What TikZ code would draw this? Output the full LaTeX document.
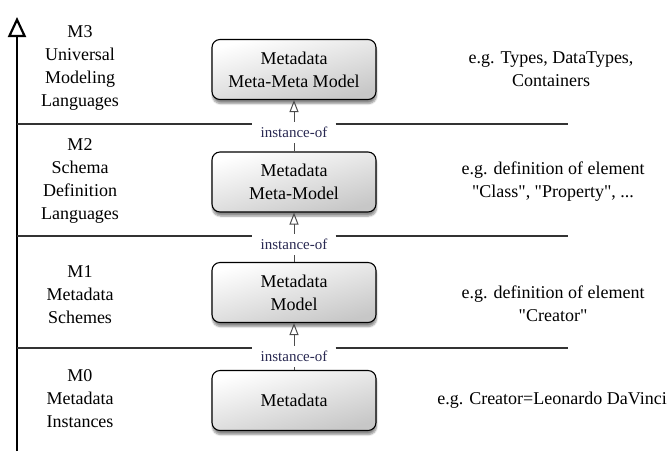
\documentclass[tikz,border=0pt]{standalone}
\usepackage{fontspec}
\setmainfont{Liberation Serif}
\usetikzlibrary{arrows.meta,shadows.blur}
\definecolor{instblue}{rgb}{0.16,0.16,0.32}

\begin{document}
\begin{tikzpicture}[x=1pt, y=-1pt,
	level/.style={font=\fontsize{18}{23}\selectfont, align=center},
	mbox/.style={level, draw=black, line width=1.1pt, rounded corners=8pt, minimum width=164pt, minimum height=60pt, top color=white, bottom color=black!22, shading angle=15, blur shadow={shadow xshift=0.5pt, shadow yshift=-4pt, shadow blur steps=6, shadow opacity=45}},
	inst/.style={font=\fontsize{15}{18}\selectfont, text=instblue, fill=white, inner xsep=8pt, inner ysep=0pt, minimum height=21pt},
	sep/.style={line width=1.4pt, draw=black!80},
	instof/.style={draw=black!70, line width=0.7pt, -{Triangle[open, length=12pt, width=9pt, line width=1pt]}}]
			\useasboundingbox (0,0) rectangle (671,451);

			\coordinate (axbot) at (17,451);
			\coordinate (axtop) at (17,17);
			\draw[line width=2.6pt, -{Triangle[open, length=20pt, width=18pt, line width=2.2pt]}] (axbot) -- (axtop);

			\node[mbox] (m3) at (294,69.5) {Metadata\\Meta-Meta Model};
			\node[mbox] (m2) at (294,182) {Metadata\\Meta-Model};
			\node[mbox] (m1) at (294,292.5) {Metadata\\Model};
			\node[mbox] (m0) at (294,400.5) {Metadata};

			\draw[instof] (m2.north) -- (m3.south);
			\draw[instof] (m1.north) -- (m2.south);
			\draw[instof] (m0.north) -- (m1.south);

			\node[inst] (i3) at (294,132.5) {instance-of};
			\node[inst] (i2) at (294,244.5) {instance-of};
			\node[inst] (i1) at (294,356.5) {instance-of};

			\coordinate (s3l) at (17,124);
			\coordinate (s3r) at (568,124);
			\coordinate (s2l) at (17,236);
			\coordinate (s2r) at (568,236);
			\coordinate (s1l) at (17,348);
			\coordinate (s1r) at (568,348);
			\draw[sep] (s3l) -- (s3l -| i3.west) (i3.east |- s3l) -- (s3r);
			\draw[sep] (s2l) -- (s2l -| i2.west) (i2.east |- s2l) -- (s2r);
			\draw[sep] (s1l) -- (s1l -| i1.west) (i1.east |- s1l) -- (s1r);

			\node[level] (l3) at (80,67.5) {M3\\Universal\\Modeling\\Languages};
			\node[level] (l2) at (80,181) {M2\\Schema\\Definition\\Languages};
			\node[level] (l1) at (80,295) {M1\\Metadata\\Schemes};
			\node[level] (l0) at (80,399) {M0\\Metadata\\Instances};

			\node[level] (r3) at (551,69) {e.g. Types, DataTypes,\\Containers};
			\node[level] (r2) at (553,181.5) {e.g. definition of element\\\textquotedbl Class\textquotedbl, \textquotedbl Property\textquotedbl, ...};
			\node[level] (r1) at (553,304) {e.g. definition of element\\\textquotedbl Creator\textquotedbl};
			\node[level] (r0) at (552,400) {e.g. Creator=Leonardo DaVinci};
\end{tikzpicture}
\end{document}
